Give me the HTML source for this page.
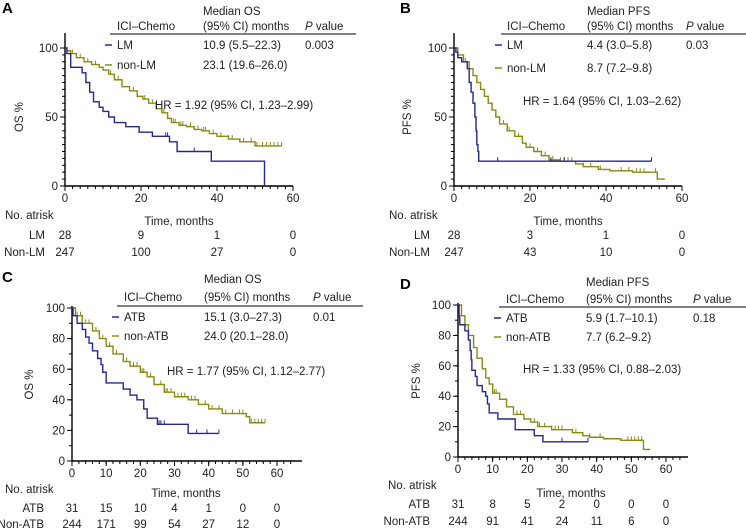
<!DOCTYPE html>
<html><head><meta charset="utf-8">
<style>
html,body{margin:0;padding:0;background:#fff;}
svg{display:block;font-family:"Liberation Sans",Arial,sans-serif;}
text{font-size:11.5px;fill:#222;}
.lbl{font-weight:bold;font-size:15px;fill:#000;}
</style></head>
<body>
<svg id="fig" width="746" height="531" viewBox="0 0 746 531"></svg>
<script>
// ---------- Data ----------
const aLMTimes=[0.5,1.5,4.5,5.5,6.5,7.5,9,10,11.5,13,16,19.5,23,27.5,29.5,38.5,52.5];
const aLMSurv=[96,86,82,75,68,61,57,54,50,46,43,39,36,32,25,18,9];
const aLMEndTime=52.5;const aLMEndSurv=0;
const aLMCensor=[19.5,26.5,27,34];
const aNLTimes=[0.5,1.5,3,5,7,9,10,11.5,13,15,17,19,20.5,22,24,25.5,27,28,30,32,34,36,38,40,43,46,50];
const aNLSurv=[98,96,93,90,88,86,84,81,77,72,69,65,63,60,56,53,49,46,44,43,41,40,38,36,34,32,29];
const aNLEnd=57;
const aNLCensor=[2,4,6,8,12,14,18,19,21,23,26,27,28.5,29,30.5,31,33,35,36.5,37,39,41,43,44,47,49,50.5,52,53,54,55,56,57];
const bLMTimes=[0.5,1,2,3.5,4,4.5,5,5.5,5.8,6,6.3,6.5];
const bLMSurv=[97,93,90,85,75,68,60,50,40,30,25,18];
const bLMEnd=52;
const bLMCensor=[11.5,25.5,29,52];
const bNLTimes=[1,2.5,4,5,6,7,8,9,10,11,12,14,16,18,19,21,23,25,28,32,34,38,41,47,53.5];
const bNLSurv=[95,90,85,80,75,70,65,60,55,50,45,40,36,31,28,25,22,19,18,16,14,12,11,10,5];
const bNLEnd=55.5;
const bNLCensor=[3,9,13,14.5,17,18,20,22,24,26,28,29,30,31,34,36,38.5,44,46,48,49,50,53];
const cATBTimes=[0.3,1.5,3,4,5,6,7.5,8.5,9,10,15,17,19,21,22,25,34];
const cATBSurv=[95,90,86,81,77,72,67,63,58,51,47,43,40,34,28,24,18];
const cATBEnd=43;
const cATBCensor=[25.5,26,27,36.5,39.5,43];
const cNTTimes=[1,3,6,8,10,12,15,17,20,22,24,27,30,34,37,40,44,51,52];
const cNTSurv=[95,90,85,80,75,70,65,62,58,55,50,45,42,40,37,34,31,29,25];
const cNTEnd=56.5;
const cNTCensor=[1.5,2.5,4,5,7,9,11,13,16,18,19,20.5,21,23,26,27.5,28,29,31,32,33,35,36,39,41,43,45,47,49,50,52.5,53.5,54.5,55.5,56.5];
const dATBTimes=[0.3,0.5,2,3,3.5,3.8,4,5,5.5,7,8,8.5,9,11.5,16.5,22,24.5];
const dATBSurv=[93,87,83,77,70,64,57,53,47,43,40,35,29,25,18,14,10];
const dATBEnd=37.5;
const dATBCensor=[30,37.5];
const dNTTimes=[1,2,3,4.5,5.5,7,8,9,10,12,14,16,19,21,23,27,33,36,38,42,47,53.5];
const dNTSurv=[93,87,80,72,65,58,52,48,42,38,33,28,25,23,20,18,16,14,13,12,11,5];
const dNTEnd=55.5;
const dNTCensor=[10.5,11,17,18,22,23.5,25,27,28,29,30,33,34,38,41,49,50,51,52,53];

const aRiskTimes=[0,20,40,60], aRiskLM=[28,9,1,0], aRiskNL=[247,100,27,0];
const bRiskTimes=[0,20,40,60], bRiskLM=[28,3,1,0], bRiskNL=[247,43,10,0];
const cRiskTimes=[0,10,20,30,40,50,60], cRiskATB=[31,15,10,4,1,0,0], cRiskNT=[244,171,99,54,27,12,0];
const dRiskTimes=[0,10,20,30,40,50,60], dRiskATB=[31,8,5,2,0,0,0], dRiskNT=[244,91,41,24,11,6,0];

const BLUE="#25298e", OLIVE="#8a8a14";
const NS="http://www.w3.org/2000/svg";
const svg=document.getElementById('fig');
function mk(tag,attrs,parent){const e=document.createElementNS(NS,tag);for(const k in attrs)e.setAttribute(k,attrs[k]);(parent||svg).appendChild(e);return e;}
function txt(x,y,s,parent,anchor,cls){const t=mk('text',{x:x,y:y,'text-anchor':anchor||'start'},parent);if(cls)t.setAttribute('class',cls);t.textContent=s;return t;}

function panel(P){
  const g=mk('g',{});
  
  
  const sx=t=>P.x0+t*(P.x60-P.x0)/60;
  const sy=v=>P.y0-v*(P.y0-P.y100)/100;
  const L=txt(P.lx,P.ly,P.letter,g,'start','lbl');
  
  
  const ax=mk('g',{},g);
  
  
  mk('line',{x1:P.x0,y1:P.y0,x2:P.xEnd,y2:P.y0,stroke:'#000','stroke-width':1.4},ax);
  mk('line',{x1:P.x0,y1:P.y0,x2:P.x0,y2:P.yTop,stroke:'#000','stroke-width':1.4},ax);
  for(let t=0;t<=P.xMaxTick;t+=P.xMinor){mk('line',{x1:sx(t),y1:P.y0,x2:sx(t),y2:P.y0+3,stroke:'#000','stroke-width':1},ax);}
  for(let t=0;t<=60;t+=P.xMajor){mk('line',{x1:sx(t),y1:P.y0,x2:sx(t),y2:P.y0+5,stroke:'#000','stroke-width':1},ax);
    const tl=txt(sx(t),P.y0+16,String(t),ax,'middle');
    
    }
  for(let v=0;v<=100;v+=P.yMinor){mk('line',{x1:P.x0-3,y1:sy(v),x2:P.x0,y2:sy(v),stroke:'#000','stroke-width':1},ax);}
  for(let v=0;v<=100;v+=P.yMajor){mk('line',{x1:P.x0-5,y1:sy(v),x2:P.x0,y2:sy(v),stroke:'#000','stroke-width':1},ax);
    const tl=txt(P.x0-7,sy(v)+4,String(v),ax,'end');
    
    }
  const yt=txt(0,0,P.yTitle,ax,'middle');
  yt.setAttribute('transform','translate('+P.ytx+','+(P.y0+P.y100)/2+') rotate(-90)');
  
  
  const xt=txt(P.xtx,P.xty,'Time, months',ax,'middle');
  
  
  P.series.forEach(S=>{
    let d='M'+sx(0)+','+sy(100);
    for(let i=0;i<S.t.length;i++){d+=' H'+sx(S.t[i])+' V'+sy(S.s[i]);}
    d+=' H'+sx(S.end);
    if(S.endSurv!==undefined)d+=' V'+sy(S.endSurv);
    const p=mk('path',{d:d,fill:'none',stroke:S.color,'stroke-width':1.4},g);
    
    
    S.c.forEach(ct=>{let v=100;for(let i=0;i<S.t.length;i++){if(S.t[i]<=ct)v=S.s[i];}
      const c=mk('line',{x1:sx(ct),y1:sy(v),x2:sx(ct),y2:sy(v)-4,stroke:S.color,'stroke-width':1},g);
      
      });
  });
  const tb=mk('g',{},g);
  
  
  txt(P.c1,P.hy2,'ICI–Chemo',tb);
  txt(P.c2,P.hy1,P.medTitle,tb);
  txt(P.c2,P.hy2,'(95% CI) months',tb);
  const pv=mk('text',{x:P.c3,y:P.hy2},tb);pv.innerHTML='<tspan font-style="italic">P</tspan> value';
  mk('line',{x1:P.lineX1,y1:P.lineY,x2:P.lineX2,y2:P.lineY,stroke:'#000','stroke-width':1},tb);
  P.rows.forEach((r,i)=>{const y=P.rowY[i];
    const le=mk('line',{x1:P.c1-12,y1:y-4,x2:P.c1-5,y2:y-4,stroke:r.color,'stroke-width':1.5},tb);
    
    
    txt(P.c1,y,r.label,tb);txt(P.c2,y,r.med,tb);if(r.p)txt(P.c3,y,r.p,tb);});
  const hr=txt(P.hrx,P.hry,P.hr,g);
  
  
  const rk=mk('g',{},g);
  
  
  txt(P.nax,P.nay,'No. atrisk',rk);
  P.risk.forEach(r=>{txt(P.rlx,r.y,r.label,rk,'end');
    r.vals.forEach((v,i)=>{txt(sx(P.riskTimes[i]),r.y,String(v),rk,'middle');});});
}

panel({name:'panel-a-os-lm',letter:'A',lx:2,ly:13,x0:65,x60:293,xEnd:293,y0:186,y100:48,yTop:33,
 xMaxTick:60,xMinor:2,xMajor:20,yMinor:5,yMajor:50,yTitle:'OS %',ytx:23,xtx:179,xty:225,
 series:[{name:'non-lm',color:OLIVE,t:aNLTimes,s:aNLSurv,end:aNLEnd,c:aNLCensor},
         {name:'lm',color:BLUE,t:aLMTimes,s:aLMSurv,end:aLMEndTime,endSurv:aLMEndSurv,c:aLMCensor}],
 c1:117,c2:203,c3:305,hy1:15,hy2:30,lineX1:110,lineX2:356,lineY:34,rowY:[49,69],
 medTitle:'Median  OS',
 rows:[{label:'LM',med:'10.9 (5.5–22.3)',p:'0.003',color:BLUE},{label:'non-LM',med:'23.1 (19.6–26.0)',color:OLIVE}],
 hrx:155,hry:109,hr:'HR = 1.92 (95% CI, 1.23–2.99)',
 nax:5,nay:219,rlx:45,riskTimes:aRiskTimes,
 risk:[{label:'LM',y:239,vals:aRiskLM},{label:'Non-LM',y:256,vals:aRiskNL}]});

panel({name:'panel-b-pfs-lm',letter:'B',lx:400,ly:13,x0:454,x60:682,xEnd:682,y0:186,y100:48,yTop:33,
 xMaxTick:60,xMinor:2,xMajor:20,yMinor:5,yMajor:50,yTitle:'PFS %',ytx:411,xtx:568,xty:225,
 series:[{name:'non-lm',color:OLIVE,t:bNLTimes,s:bNLSurv,end:bNLEnd,c:bNLCensor},
         {name:'lm',color:BLUE,t:bLMTimes,s:bLMSurv,end:bLMEnd,c:bLMCensor}],
 c1:507,c2:587,c3:686,hy1:15,hy2:30,lineX1:501,lineX2:746,lineY:34,rowY:[49,72],
 medTitle:'Median  PFS',
 rows:[{label:'LM',med:'4.4 (3.0–5.8)',p:'0.03',color:BLUE},{label:'non-LM',med:'8.7 (7.2–9.8)',color:OLIVE}],
 hrx:523,hry:105,hr:'HR = 1.64 (95% CI, 1.03–2.62)',
 nax:389,nay:219,rlx:430,riskTimes:bRiskTimes,
 risk:[{label:'LM',y:239,vals:bRiskLM},{label:'Non-LM',y:256,vals:bRiskNL}]});

panel({name:'panel-c-os-atb',letter:'C',lx:2,ly:282,x0:72,x60:277,xEnd:302,y0:461,y100:308,yTop:306,
 xMaxTick:64,xMinor:2,xMajor:10,yMinor:10,yMajor:20,yTitle:'OS %',ytx:33,xtx:186,xty:497,
 series:[{name:'non-atb',color:OLIVE,t:cNTTimes,s:cNTSurv,end:cNTEnd,c:cNTCensor},
         {name:'atb',color:BLUE,t:cATBTimes,s:cATBSurv,end:cATBEnd,c:cATBCensor}],
 c1:124,c2:204,c3:313,hy1:283,hy2:301,lineX1:117,lineX2:363,lineY:306,rowY:[321,340],
 medTitle:'Median  OS',
 rows:[{label:'ATB',med:'15.1 (3.0–27.3)',p:'0.01',color:BLUE},{label:'non-ATB',med:'24.0 (20.1–28.0)',color:OLIVE}],
 hrx:167,hry:375,hr:'HR = 1.77 (95% CI, 1.12–2.77)',
 nax:5,nay:493,rlx:44,riskTimes:cRiskTimes,
 risk:[{label:'ATB',y:512,vals:cRiskATB},{label:'Non-ATB',y:528,vals:cRiskNT}]});

panel({name:'panel-d-pfs-atb',letter:'D',lx:400,ly:289,x0:458,x60:666,xEnd:688,y0:457,y100:305,yTop:303,
 xMaxTick:64,xMinor:2,xMajor:10,yMinor:10,yMajor:20,yTitle:'PFS %',ytx:420,xtx:571,xty:497,
 series:[{name:'non-atb',color:OLIVE,t:dNTTimes,s:dNTSurv,end:dNTEnd,c:dNTCensor},
         {name:'atb',color:BLUE,t:dATBTimes,s:dATBSurv,end:dATBEnd,c:dATBCensor}],
 c1:506,c2:586,c3:693,hy1:286,hy2:303,lineX1:499,lineX2:746,lineY:307,rowY:[322,341],
 medTitle:'Median  PFS',
 rows:[{label:'ATB',med:'5.9 (1.7–10.1)',p:'0.18',color:BLUE},{label:'non-ATB',med:'7.7 (6.2–9.2)',color:OLIVE}],
 hrx:523,hry:373,hr:'HR = 1.33 (95% CI, 0.88–2.03)',
 nax:388,nay:489,rlx:430,riskTimes:dRiskTimes,
 risk:[{label:'ATB',y:508,vals:dRiskATB},{label:'Non-ATB',y:525,vals:dRiskNT}]});
</script>
</body></html>
